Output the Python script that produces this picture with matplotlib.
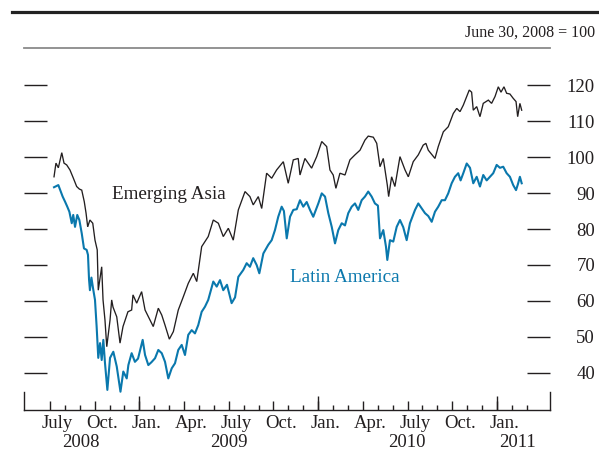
import matplotlib
matplotlib.use("Agg")
import matplotlib.pyplot as plt
from matplotlib.lines import Line2D

# ---- data (time in months since July 1, 2008; index June 30, 2008 = 100) ----
asia_t = [0.27, 0.40, 0.56, 0.79, 0.94, 1.12, 1.34, 1.56, 1.79, 1.97, 2.13, 2.30, 2.42, 2.53,
          2.68, 2.87, 3.02, 3.17, 3.24, 3.47, 3.56, 3.69, 3.81, 4.03, 4.14, 4.23, 4.48, 4.70,
          4.90, 5.23, 5.48, 5.57, 5.82, 6.15, 6.38, 6.71, 6.93, 7.27, 7.50, 7.72, 8.01, 8.28,
          8.61, 8.95, 9.28, 9.62, 9.85, 10.02, 10.18, 10.62, 10.96, 11.30, 11.63, 11.97, 12.30,
          12.64, 13.09, 13.42, 13.64, 13.98, 14.21, 14.54, 14.88, 15.21, 15.66, 15.99, 16.33,
          16.66, 16.78, 17.11, 17.56, 17.90, 18.24, 18.57, 18.79, 19.01, 19.19, 19.46, 19.80,
          20.13, 20.47, 20.81, 21.14, 21.36, 21.70, 21.93, 22.15, 22.37, 22.64, 22.73, 22.93,
          23.15, 23.49, 23.83, 24.05, 24.38, 24.72, 25.05, 25.23, 25.39, 25.84, 26.06, 26.40,
          26.73, 27.07, 27.30, 27.52, 27.74, 27.97, 28.14, 28.30, 28.41, 28.64, 28.86, 29.08,
          29.42, 29.64, 29.87, 30.09, 30.27, 30.47, 30.65, 30.87, 31.09, 31.28, 31.39, 31.54,
          31.66]
asia_v = [94.5, 98.3, 97.0, 101.2, 98.3, 97.8, 96.4, 94.2, 91.8, 91.1, 90.8, 87.6, 84.4, 80.6,
          82.5, 81.6, 76.9, 74.2, 63.0, 69.5, 60.3, 54.7, 47.3, 54.7, 60.3, 58.3, 55.6, 48.3,
          52.9, 57.0, 57.5, 61.7, 59.4, 62.6, 57.5, 54.7, 52.9, 58.0, 56.1, 53.3, 49.4, 51.5,
          57.5, 61.2, 64.9, 67.7, 65.4, 70.5, 75.1, 77.9, 82.5, 81.6, 77.9, 80.2, 76.9,
          85.3, 90.4, 89.0, 86.7, 89.0, 85.7, 95.5, 94.1, 96.4, 98.7, 92.7, 99.2,
          99.6, 95.0, 99.6, 96.9, 100.1, 104.3, 102.9, 96.4, 95.0, 91.3, 95.5, 95.0,
          99.2, 100.6, 101.9, 104.7, 105.8, 105.5, 103.8, 97.3, 99.6, 92.2, 89.0, 94.5,
          91.8, 100.1, 96.4, 94.5, 98.7, 100.6, 103.3, 103.8, 101.9, 99.6, 102.9, 107.0,
          108.4, 112.1, 113.5, 112.6, 114.4, 116.8, 118.6, 118.0, 113.0, 114.0, 111.2, 114.9,
          115.8, 114.9, 116.8, 119.5, 118.0, 119.5, 117.7, 117.5, 116.3, 115.4, 111.2, 114.9,
          113.0]

latam_t = [0.27, 0.56, 0.67, 0.85, 1.01, 1.16, 1.30, 1.46, 1.56, 1.68, 1.83, 1.97, 2.13, 2.28,
           2.46, 2.55, 2.62, 2.68, 2.78, 2.89, 3.02, 3.13, 3.24, 3.36, 3.47, 3.58, 3.69, 3.85,
           4.03, 4.25, 4.48, 4.73, 4.92, 5.15, 5.26, 5.48, 5.70, 5.91, 6.22, 6.38, 6.60, 6.81,
           7.05, 7.27, 7.50, 7.72, 7.94, 8.17, 8.39, 8.61, 8.84, 9.06, 9.28, 9.51, 9.73, 9.95,
           10.18, 10.40, 10.62, 10.96, 11.19, 11.41, 11.63, 11.88, 12.19, 12.42, 12.64, 12.97,
           13.20, 13.42, 13.64, 13.87, 14.05, 14.32, 14.65, 14.88, 15.10, 15.32, 15.55, 15.70,
           15.89, 16.11, 16.33, 16.56, 16.78, 17.00, 17.23, 17.45, 17.67, 18.01, 18.24, 18.46,
           18.68, 18.91, 19.13, 19.35, 19.58, 19.80, 20.02, 20.25, 20.47, 20.69, 20.92, 21.14,
           21.36, 21.59, 21.81, 22.01, 22.15, 22.37, 22.55, 22.64, 22.82, 23.04, 23.27, 23.49,
           23.71, 23.94, 24.16, 24.50, 24.72, 24.94, 25.17, 25.39, 25.62, 25.84, 26.06, 26.29,
           26.51, 26.73, 26.96, 27.18, 27.40, 27.56, 27.74, 27.97, 28.19, 28.41, 28.64, 28.86,
           29.08, 29.31, 29.53, 29.75, 29.98, 30.20, 30.42, 30.65, 30.87, 31.09, 31.28, 31.41,
           31.54, 31.66]
latam_v = [91.6, 92.2, 91.0, 89.0, 87.6, 86.2, 84.8, 81.6, 83.9, 80.6, 83.9, 82.5, 78.8, 74.6,
           74.2, 72.8, 66.0, 63.0, 66.5, 63.5, 60.3, 52.9, 44.2, 48.3, 43.6, 49.2, 42.8, 35.3,
           44.2, 45.9, 41.8, 34.8, 40.4, 38.5, 42.2, 45.5, 43.1, 44.0, 49.2, 45.0, 42.2, 43.0,
           44.1, 46.4, 45.5, 43.1, 38.5, 41.3, 42.7, 46.4, 47.8, 45.0, 50.6, 51.9, 51.0, 53.3,
           57.0, 58.4, 60.3, 65.4, 64.0, 65.8, 63.0, 64.5, 59.4, 61.0, 66.7, 68.6,
           70.5, 69.5, 71.9, 70.0, 67.7, 73.2, 75.6, 76.9, 79.7, 83.4, 86.2, 85.0,
           77.4, 83.4, 85.3, 85.5, 88.0, 86.2, 87.5, 85.3, 83.4, 87.1, 89.9, 89.0,
           84.4, 80.6, 76.0, 79.7, 81.6, 81.0, 84.4, 86.2, 87.1, 85.3, 88.0, 89.0,
           90.4, 89.0, 87.1, 86.5, 77.4, 79.7, 75.1, 71.4, 76.9, 76.5, 80.6, 82.5,
           80.5, 76.9, 81.6, 85.3, 87.1, 85.8, 84.4, 83.6, 82.0, 84.8, 86.2, 88.0,
           88.0, 89.9, 92.7, 94.5, 95.5, 93.5, 95.5, 98.2, 97.0, 92.7, 94.5, 91.8,
           95.0, 93.5, 94.5, 95.5, 97.8, 97.0, 97.3, 95.5, 94.5, 92.2, 90.8, 92.5,
           94.5, 92.7]

y_ticks = [40, 50, 60, 70, 80, 90, 100, 110, 120]
month_labels = ["July", "Oct.", "Jan.", "Apr.", "July", "Oct.", "Jan.", "Apr.", "July", "Oct.", "Jan."]
year_labels = ["2008", "2009", "2010", "2011"]
year_label_pos = [2.08, 12.0, 23.96, 31.4]

# ---- style ----
BLACK = "#231f20"
BLUE = "#0a78ad"
plt.rcParams['font.family'] = ['Liberation Serif', 'DejaVu Serif']

fig = plt.figure(figsize=(5.99, 4.54), dpi=100)
ax = fig.add_axes([24/599, 1-410/454, (550-24)/599, (410-48)/454])

ax.plot(asia_t, asia_v, color=BLACK, lw=0.95, solid_joinstyle='miter')
ax.plot(latam_t, latam_v, color=BLUE, lw=1.5)

ax.set_xlim(-1.745, 33.56)
ax.set_ylim(29.72, 130.28)

# spines
for s in ['left', 'right']:
    ax.spines[s].set_visible(False)
ax.spines['top'].set_color('#8a8a8a')
ax.spines['top'].set_linewidth(1.3)
ax.spines['bottom'].set_color(BLACK)
ax.spines['bottom'].set_linewidth(1.0)

# y ticks: inward on both sides, labels right
ax.set_yticks(y_ticks)
ax.tick_params(axis='y', which='major', left=True, right=True, labelleft=False,
               labelright=True, direction='in', length=16.6, width=1.0,
               color=BLACK, pad=32.4, labelsize=13.5, labelcolor=BLACK)
for t in ax.yaxis.get_major_ticks():
    t.label2.set_horizontalalignment('right')

# x ticks: months (short), quarters (medium), no labels
n_months = 33
ax.set_xticks([m for m in range(0, n_months) if m % 3 == 0])
ax.set_xticks(list(range(0, n_months)), minor=True)
ax.tick_params(axis='x', which='major', direction='in', length=6.5, width=1.0,
               color=BLACK, labelbottom=False)
ax.tick_params(axis='x', which='minor', direction='in', length=3.6, width=1.0,
               color=BLACK)

# year ticks (tall)
sec_year_ticks = ax.secondary_xaxis('bottom')
sec_year_ticks.set_xticks([6, 18, 30])
sec_year_ticks.tick_params(direction='in', length=10.0, width=1.0, color=BLACK,
                           labelbottom=False)
sec_year_ticks.spines['bottom'].set_visible(False)

# month labels
sec_m = ax.secondary_xaxis('bottom')
sec_m.set_xticks([0.5 + 3*k for k in range(len(month_labels))], month_labels)
sec_m.tick_params(length=0, pad=3.5, labelsize=13.5, labelcolor=BLACK)
sec_m.spines['bottom'].set_visible(False)

# year labels
sec_y = ax.secondary_xaxis('bottom')
sec_y.set_xticks(year_label_pos, year_labels)
sec_y.tick_params(length=0, pad=17.5, labelsize=13.5, labelcolor=BLACK)
sec_y.spines['bottom'].set_visible(False)

# end marks of the x axis
for xa in (0.0, 1.0):
    ax.add_line(Line2D([xa, xa], [0, 18/362], transform=ax.transAxes, color=BLACK,
                       lw=1.0, clip_on=False))

# series labels
ax.text(4.16, 88.2, "Emerging Asia", color=BLACK, fontsize=13.8, ha='left', va='baseline')
ax.text(16.1, 65.4, "Latin America", color=BLUE, fontsize=13.8, ha='left', va='baseline')

# header
fig.add_artist(Line2D([12/599, 1.0], [1-11.5/454, 1-11.5/454], color='#222222', lw=2.3))
fig.text(595/599, 1-36.5/454, "June 30, 2008 = 100", ha='right', va='baseline',
         fontsize=11.5, color=BLACK)

fig.savefig("out.png", dpi=100)
